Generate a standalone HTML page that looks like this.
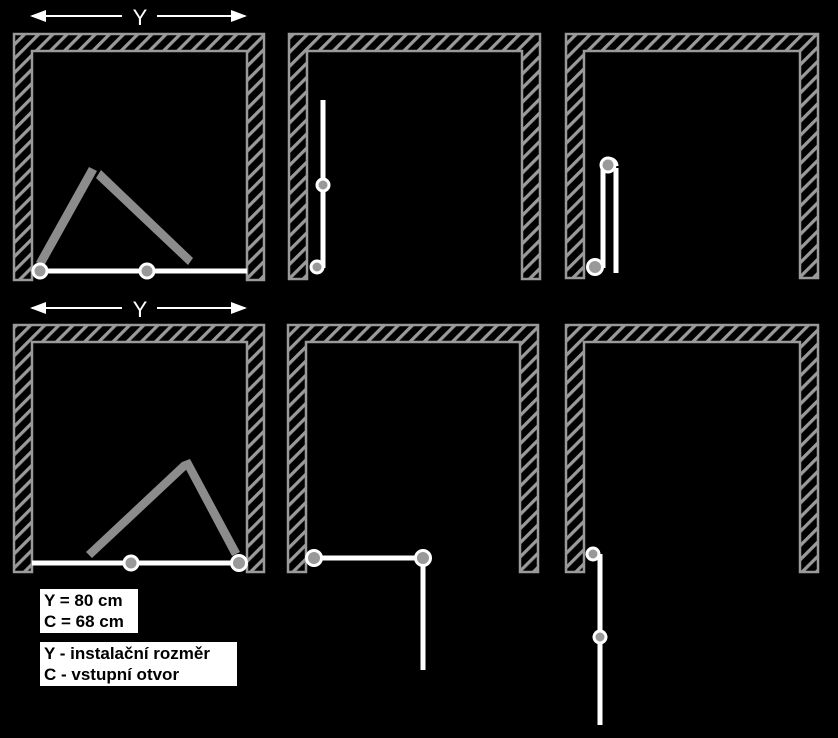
<!DOCTYPE html>
<html><head><style>
body{margin:0;background:#000;width:838px;height:738px;overflow:hidden}
svg{position:absolute;left:0;top:0}
.box{position:absolute;background:#fff;color:#000;font:bold 17px "Liberation Sans",sans-serif;line-height:21px;padding:1px 4px}
</style></head><body>
<svg width="838" height="738" viewBox="0 0 838 738">
<defs>
<pattern id="h" width="10" height="10" patternUnits="userSpaceOnUse" patternTransform="rotate(45)">
<rect width="10" height="10" fill="#000"/><line x1="1.5" y1="0" x2="1.5" y2="10" stroke="#9a9a9a" stroke-width="3.5"/>
</pattern>
<marker id="a" markerWidth="8" markerHeight="6" refX="7" refY="3" orient="auto"><path d="M0,0L8,3L0,6z" fill="#fff"/></marker>
</defs>
<g fill="url(#h)" stroke="#9a9a9a" stroke-width="2.5">
<path d="M14,280V34H264V280H247V51H32V280Z"/>
<path d="M289,279V34H540V279H522V51H307V279Z"/>
<path d="M566,278V34H818V278H800V51H584V278Z"/>
<path d="M14,572V325H264V572H247V342H32V572Z"/>
<path d="M288,572V325H538V572H520V342H306V572Z"/>
<path d="M566,572V325H818V572H800V342H584V572Z"/>
</g>
<g stroke="#fff" stroke-width="2" marker-end="url(#a)">
<line x1="122" y1="16" x2="32" y2="16"/><line x1="157" y1="16" x2="245" y2="16"/>
<line x1="122" y1="308" x2="32" y2="308"/><line x1="157" y1="308" x2="245" y2="308"/>
</g>
<g fill="#fff" font-family="Liberation Sans,sans-serif" font-size="22" text-anchor="middle">
<text x="140" y="25">Y</text><text x="140" y="317">Y</text>
</g>
<g fill="#8c8c8c">
<polygon points="36,262 89,167 97,171 44,266"/>
<polygon points="96,178 101,170 193,258 188,265"/>
<polygon points="86,552 182,462 188,468 92,558"/>
<polygon points="182,462 190,459 240,552 232,556"/>
</g>
<g stroke="#fff" stroke-width="5" fill="none">
<line x1="40" y1="271" x2="247" y2="271"/>
<line x1="323" y1="100" x2="323" y2="268"/>
<line x1="603" y1="165" x2="603" y2="268"/>
<line x1="616" y1="168" x2="616" y2="273"/>
<path d="M603,166 A6.5,6.5 0 0 1 616,166" />
<line x1="32" y1="563" x2="240" y2="563"/>
<line x1="314" y1="558" x2="423" y2="558"/>
<line x1="423" y1="558" x2="423" y2="670"/>
<line x1="600" y1="554" x2="600" y2="725"/>
</g>
<g fill="#999" stroke="#fff" stroke-width="3">
<circle cx="40" cy="271" r="7"/><circle cx="147" cy="271" r="7"/>
<circle cx="323" cy="185" r="6"/><circle cx="317" cy="267" r="6"/>
<circle cx="608" cy="165" r="7"/><circle cx="595" cy="267" r="7.5"/>
<circle cx="131" cy="563" r="7"/><circle cx="239" cy="563" r="7.5"/>
<circle cx="314" cy="558" r="7.5"/><circle cx="423" cy="558" r="7.5"/>
<circle cx="593" cy="554" r="6"/><circle cx="600" cy="637" r="6"/>
</g>
</svg>
<div class="box" style="left:40px;top:589px;width:90px">Y = 80 cm<br>C = 68 cm</div>
<div class="box" style="left:40px;top:642px;width:189px">Y - instalační rozměr<br>C - vstupní otvor</div>
</body></html>
